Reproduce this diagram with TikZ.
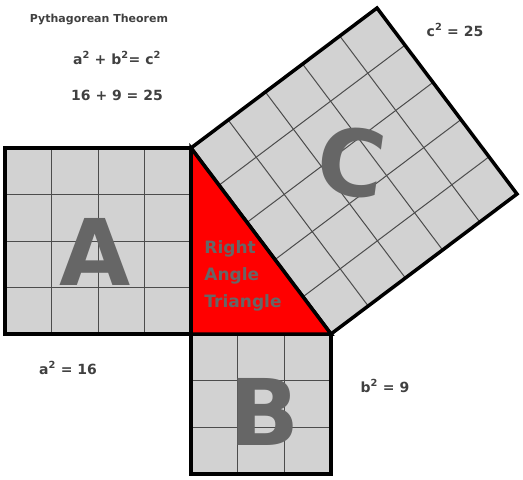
\documentclass[tikz,border=0pt]{standalone}
\usepackage{fontspec}
\setmainfont{DejaVu Sans}
\usetikzlibrary{calc}
\begin{document}
\begin{tikzpicture}[x=1pt,y=-1pt,
  sq/.style={fill=gray!35},
  gridl/.style={draw=gray!60!black,line width=1pt},
  border/.style={draw=black,line width=3.5pt,line join=miter},
  lbl/.style={font=\bfseries\fontsize{14}{16}\selectfont,text=black!75},
  big/.style={font=\bfseries\fontsize{92}{92}\selectfont,text=black!60}]
\useasboundingbox (0,0) rectangle (523,480);
% Square A
\fill[sq] (5,148) rectangle (191,334);
\foreach \i in {1,2,3}{\draw[gridl] (5+46.5*\i,148) -- (5+46.5*\i,334);
  \draw[gridl] (5,148+46.5*\i) -- (191,148+46.5*\i);}
\draw[border] (5,148) rectangle (191,334);
% Square B
\fill[sq] (191,334) rectangle (331,474);
\foreach \i in {1,2}{\draw[gridl] (191+46.67*\i,334) -- (191+46.67*\i,474);
  \draw[gridl] (191,334+46.67*\i) -- (331,334+46.67*\i);}
\draw[border] (191,334) rectangle (331,474);
% Square C
\coordinate (P1) at (191,148); \coordinate (P2) at (331,334);
\coordinate (P3) at (517,194); \coordinate (P4) at (377,8);
\fill[sq] (P1) -- (P2) -- (P3) -- (P4) -- cycle;
\foreach \i in {1,2,3,4}{
  \draw[gridl] ($(P1)!\i/5!(P2)$) -- ($(P4)!\i/5!(P3)$);
  \draw[gridl] ($(P1)!\i/5!(P4)$) -- ($(P2)!\i/5!(P3)$);}
\draw[border] (P1) -- (P2) -- (P3) -- (P4) -- cycle;
% Triangle
\fill[red] (191,148) -- (191,334) -- (331,334) -- cycle;
\draw[border] (191,148) -- (191,334) -- (331,334) -- cycle;
% Letters
\node[big] (A) at (95,252) {A};
\node[big] (B) at (265,412) {B};
\node[big,rotate=-8] (C) at (352,162) {C};
\node[font=\bfseries\fontsize{17}{27}\selectfont,text=black!60,align=left] (T) at (243,276) {Right\\Angle\\Triangle};
% Texts
\node[font=\bfseries\fontsize{11}{13}\selectfont,text=black!75] (t0) at (99,20) {Pythagorean Theorem};
\node[lbl] (t1) at (117,58) {a\textsuperscript{2} + b\textsuperscript{2}= c\textsuperscript{2}};
\node[lbl] (t2) at (117,95) {16 + 9 = 25};
\node[lbl] (t3) at (455,30) {c\textsuperscript{2} = 25};
\node[lbl] (t4) at (68,368) {a\textsuperscript{2} = 16};
\node[lbl] (t5) at (385,386) {b\textsuperscript{2} = 9};
\end{tikzpicture}
\end{document}
